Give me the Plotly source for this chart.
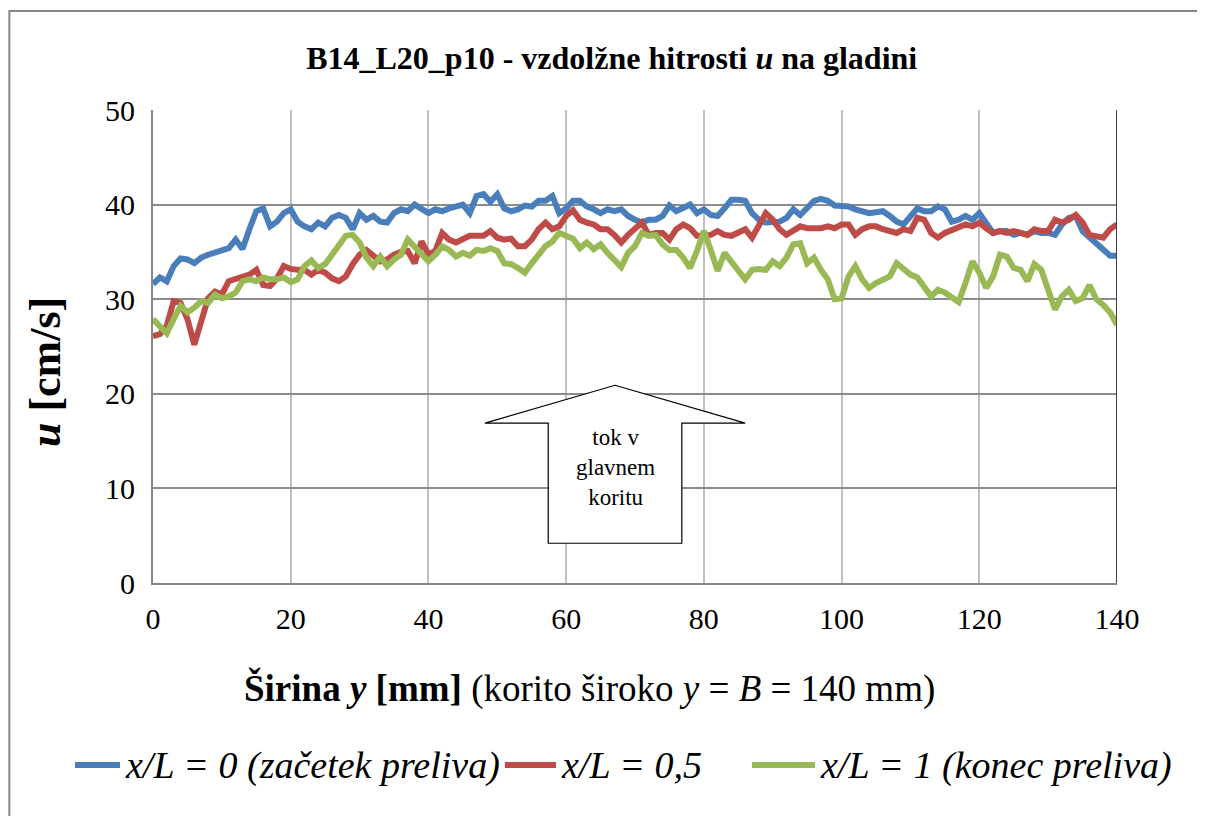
'''
    Longitudinal surface velocities u across the channel width (B14_L20_p10).
'''

import plotly.graph_objects as go

# Width positions across the channel (mm)
sirina = list(range(0, 141))

# x/L = 0 (start of the overflow)
u_zacetek = [
    31.6, 32.3, 31.9, 33.5, 34.3, 34.2, 33.8, 34.4, 34.7, 34.9,
    35.2, 35.4, 36.3, 35.3, 37.4, 39.3, 39.6, 37.7, 38.2, 39.1,
    39.5, 38.2, 37.7, 37.4, 38.1, 37.7, 38.6, 38.9, 38.6, 37.4,
    39.1, 38.4, 38.8, 38.2, 38.1, 39.1, 39.5, 39.3, 40.0, 39.5,
    39.1, 39.5, 39.3, 39.6, 39.8, 40.0, 39.1, 40.9, 41.1, 40.3,
    41.1, 39.6, 39.3, 39.5, 39.9, 39.8, 40.4, 40.4, 40.9, 39.1,
    39.6, 40.4, 40.4, 39.8, 39.5, 39.1, 39.5, 39.3, 39.5, 38.8,
    38.4, 38.1, 38.4, 38.4, 38.8, 39.9, 39.3, 39.6, 40.0, 39.1,
    39.5, 38.9, 38.8, 39.6, 40.5, 40.5, 40.4, 39.1, 38.4, 38.1,
    38.2, 38.2, 38.6, 39.5, 38.9, 39.6, 40.4, 40.6, 40.4, 39.9,
    39.9, 39.8, 39.5, 39.3, 39.1, 39.2, 39.3, 38.8, 38.2, 37.9,
    38.8, 39.6, 39.3, 39.3, 39.8, 39.5, 38.2, 38.4, 38.8, 38.4,
    39.1, 38.1, 37.0, 37.2, 37.2, 36.8, 37.0, 36.8, 37.2, 37.0,
    37.0, 36.8, 37.9, 38.6, 38.8, 37.2, 36.5, 35.8, 35.1, 34.6,
    34.6,
]

# x/L = 0.5
u_sredina = [
    26.1, 26.3, 27.2, 29.8, 29.6, 27.9, 25.2, 27.9, 30.1, 30.8,
    30.5, 31.9, 32.1, 32.4, 32.6, 33.1, 31.5, 31.4, 32.2, 33.5,
    33.2, 33.1, 33.1, 32.6, 33.1, 32.8, 32.2, 31.9, 32.4, 33.7,
    34.7, 35.2, 34.5, 34.0, 34.2, 34.7, 35.0, 35.1, 33.8, 36.1,
    34.7, 35.1, 37.0, 36.3, 36.0, 36.4, 36.7, 36.7, 36.7, 37.2,
    36.5, 36.3, 36.4, 35.6, 35.6, 36.3, 37.4, 38.1, 37.4, 37.7,
    38.8, 39.4, 38.4, 38.1, 37.9, 37.4, 37.4, 36.8, 36.0, 36.8,
    37.5, 38.1, 36.8, 37.0, 37.0, 36.3, 37.4, 37.9, 37.5, 36.7,
    36.7, 36.8, 37.2, 36.8, 36.7, 37.0, 37.4, 36.5, 37.9, 39.1,
    38.4, 37.4, 36.8, 37.2, 37.7, 37.5, 37.5, 37.5, 37.7, 37.5,
    37.9, 37.9, 36.8, 37.4, 37.7, 37.7, 37.4, 37.2, 37.0, 37.4,
    37.2, 38.6, 38.4, 37.0, 36.5, 37.0, 37.3, 37.7, 37.9, 37.7,
    38.1, 37.5, 37.0, 37.2, 37.0, 37.2, 37.0, 36.8, 37.4, 37.2,
    37.2, 38.4, 38.1, 38.4, 38.9, 38.1, 36.8, 36.7, 36.5, 37.4,
    37.9,
]

# x/L = 1 (end of the overflow)
u_konec = [
    27.9, 27.1, 26.4, 27.9, 29.3, 28.6, 29.1, 29.8, 29.6, 30.5,
    30.1, 30.3, 30.7, 31.9, 32.1, 31.9, 32.3, 32.1, 32.1, 32.3,
    31.8, 32.1, 33.5, 34.1, 33.3, 33.7, 34.7, 35.6, 36.7, 36.8,
    36.0, 34.4, 33.5, 34.5, 33.5, 34.2, 34.7, 36.3, 35.6, 34.9,
    34.0, 34.7, 35.6, 35.2, 34.5, 34.9, 34.6, 35.2, 35.1, 35.4,
    35.1, 33.8, 33.7, 33.3, 32.8, 33.8, 34.7, 35.6, 36.1, 37.0,
    36.7, 36.4, 35.4, 36.0, 35.3, 35.8, 34.9, 34.2, 33.4, 34.9,
    35.6, 37.0, 36.7, 36.8, 35.8, 35.2, 35.2, 34.4, 33.3, 35.1,
    37.2, 35.2, 33.0, 34.9, 34.0, 33.1, 32.1, 33.1, 33.2, 33.1,
    34.0, 33.5, 34.4, 35.8, 35.9, 33.8, 34.4, 33.1, 32.1, 30.0,
    30.1, 32.4, 33.5, 32.1, 31.2, 31.7, 32.1, 32.4, 33.8, 33.1,
    32.6, 32.3, 31.4, 30.3, 31.0, 30.7, 30.2, 29.7, 31.7, 34.0,
    32.8, 31.2, 32.4, 34.7, 34.5, 33.3, 33.1, 31.9, 33.7, 33.1,
    31.0, 28.9, 30.3, 31.0, 29.8, 30.1, 31.5, 30.0, 29.4, 28.6,
    27.3,
]

serije = ['x/L = 0 (začetek preliva)', 'x/L = 0,5', 'x/L = 1 (konec preliva)']
barve = ['#4a7ebb', '#be4b48', '#98b954']

y_ticks = [0, 10, 20, 30, 40, 50]
x_ticks = [0, 20, 40, 60, 80, 100, 120, 140]

serif = 'Times New Roman, Liberation Serif, serif'

fig = go.Figure()
for ime, vrednosti, barva in zip(serije, [u_zacetek, u_sredina, u_konec], barve):
    fig.add_trace(go.Scatter(x=sirina, y=vrednosti, mode='lines', name=ime,
                             line=dict(color=barva, width=6), showlegend=False))

fig.update_xaxes(range=[0, 140], tickvals=x_ticks, showgrid=True,
                 gridcolor='#c0c0c0', gridwidth=2, showline=True,
                 linecolor='#868686', linewidth=2, zeroline=False,
                 ticks='', ticklabelstandoff=8,
                 tickfont=dict(family=serif, size=30, color='black'))
fig.update_yaxes(range=[0, 50], tickvals=y_ticks, showgrid=True,
                 gridcolor='#8c8c8c', gridwidth=2, showline=True,
                 linecolor='#868686', linewidth=2, zeroline=False,
                 ticks='', ticklabelstandoff=10,
                 tickfont=dict(family=serif, size=30, color='black'))

# outer chart border
fig.add_shape(type='rect', xref='paper', yref='paper',
              x0=-0.149, x1=1.097, y0=-0.55, y1=1.2093,
              line=dict(color='#868686', width=2), layer='below')
# right edge of the plot area
fig.add_shape(type='line', xref='x', yref='paper', x0=140, x1=140, y0=0, y1=1,
              line=dict(color='#404040', width=2))

# flow direction arrow
fig.add_shape(type='path', xref='x', yref='y',
              path='M 67.1 20.9 L 86.0 16.9 L 76.8 16.9 L 76.8 4.2 '
                   'L 57.4 4.2 L 57.4 16.9 L 48.2 16.9 Z',
              fillcolor='white', line=dict(color='black', width=1.2))
fig.add_annotation(x=67.1, y=12.2, xref='x', yref='y', showarrow=False,
                   text='tok v<br>glavnem<br>koritu', align='center',
                   font=dict(family=serif, size=23, color='black'))

# axis titles
fig.add_annotation(x=0.453, y=-0.222, xref='paper', yref='paper',
                   showarrow=False, xanchor='center', yanchor='middle',
                   text='<b>Širina <i>y</i> [mm]</b> (korito široko <i>y</i> = <i>B</i> = 140 mm)',
                   font=dict(family=serif, size=37, color='black'))
fig.add_annotation(x=-0.112, y=0.446, xref='paper', yref='paper',
                   showarrow=False, textangle=-90, xanchor='center', yanchor='middle',
                   text='<b><i>u</i> [cm/s]</b>',
                   font=dict(family=serif, size=44, color='black'))

# legend drawn below the axis title (line sample + italic label)
legenda_crta = [(-0.0809, -0.0342), (0.3651, 0.418), (0.6214, 0.6867)]
legenda_y = -0.385
for ime, barva, (x0, x1) in zip(serije, barve, legenda_crta):
    fig.add_shape(type='line', xref='paper', yref='paper',
                  x0=x0, x1=x1, y0=legenda_y, y1=legenda_y,
                  line=dict(color=barva, width=6))
    fig.add_annotation(x=x1 + 0.003, y=legenda_y, xref='paper', yref='paper',
                       showarrow=False, xanchor='left', yanchor='middle',
                       text='<i>' + ime + '</i>',
                       font=dict(family=serif, size=38, color='black'))

fig.update_layout(
    width=1205, height=816,
    margin=dict(l=145, r=96, t=102, b=241),
    paper_bgcolor='white', plot_bgcolor='white',
    title=dict(text='<b>B14_L20_p10 - vzdolžne hitrosti <i>u</i> na gladini</b>',
               x=0.501, xanchor='center', y=0.9387, yanchor='middle',
               font=dict(family=serif, size=32, color='black')),
    showlegend=False,
)

fig.write_html('out.html')
